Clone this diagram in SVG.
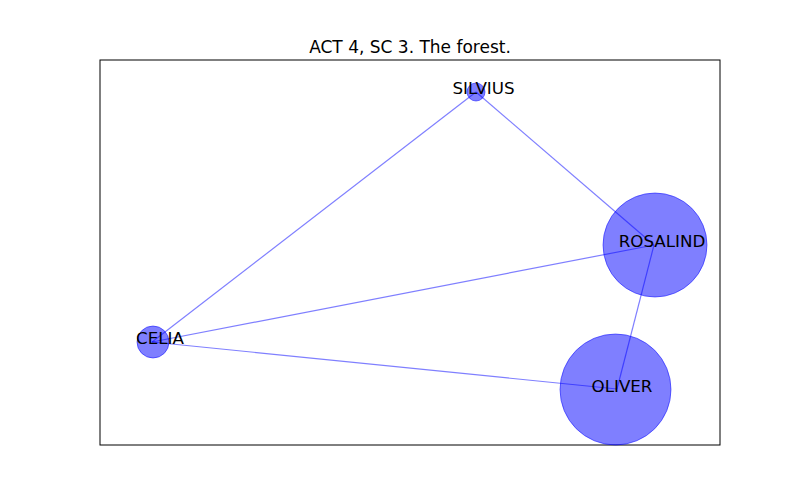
<svg xmlns="http://www.w3.org/2000/svg" width="800" height="500" viewBox="0 0 800 500">
<style>
.edge{stroke:#0000ff;stroke-opacity:0.5;stroke-width:1.2;fill:none}
.node circle{fill:#0000ff;fill-opacity:0.5;stroke:#0000ff;stroke-opacity:0.5;stroke-width:1}
text{font-family:"DejaVu Sans",sans-serif;font-size:16.7px;fill:#000}
.lbl{text-anchor:middle;dominant-baseline:central}
.title{font-size:17px}
</style>
<rect width="800" height="500" fill="#fff"/>
<text class="title" x="410" y="53" text-anchor="middle">ACT 4, SC 3. The forest.</text>
<rect x="100" y="60" width="620" height="385" fill="none" stroke="#000" stroke-width="1"/>
<g id="connectors">
<line class="edge" x1="476" y1="92" x2="654" y2="245"/>
<line class="edge" x1="476" y1="92" x2="152" y2="342"/>
<line class="edge" x1="152" y1="342" x2="654" y2="245"/>
<line class="edge" x1="152" y1="342" x2="617" y2="389"/>
<line class="edge" x1="654" y1="245" x2="617" y2="389"/>
</g>
<g id="SILVIUS" class="node"><circle cx="476" cy="92" r="9"/><text class="lbl" x="483.5" y="88">SILVIUS</text></g>
<g id="ROSALIND" class="node"><circle cx="655" cy="245" r="52"/><text class="lbl" x="662" y="241">ROSALIND</text></g>
<g id="CELIA" class="node"><circle cx="153" cy="342" r="16"/><text class="lbl" x="160" y="338">CELIA</text></g>
<g id="OLIVER" class="node"><circle cx="615.5" cy="389.5" r="55.5"/><text class="lbl" x="622" y="386">OLIVER</text></g>
</svg>
